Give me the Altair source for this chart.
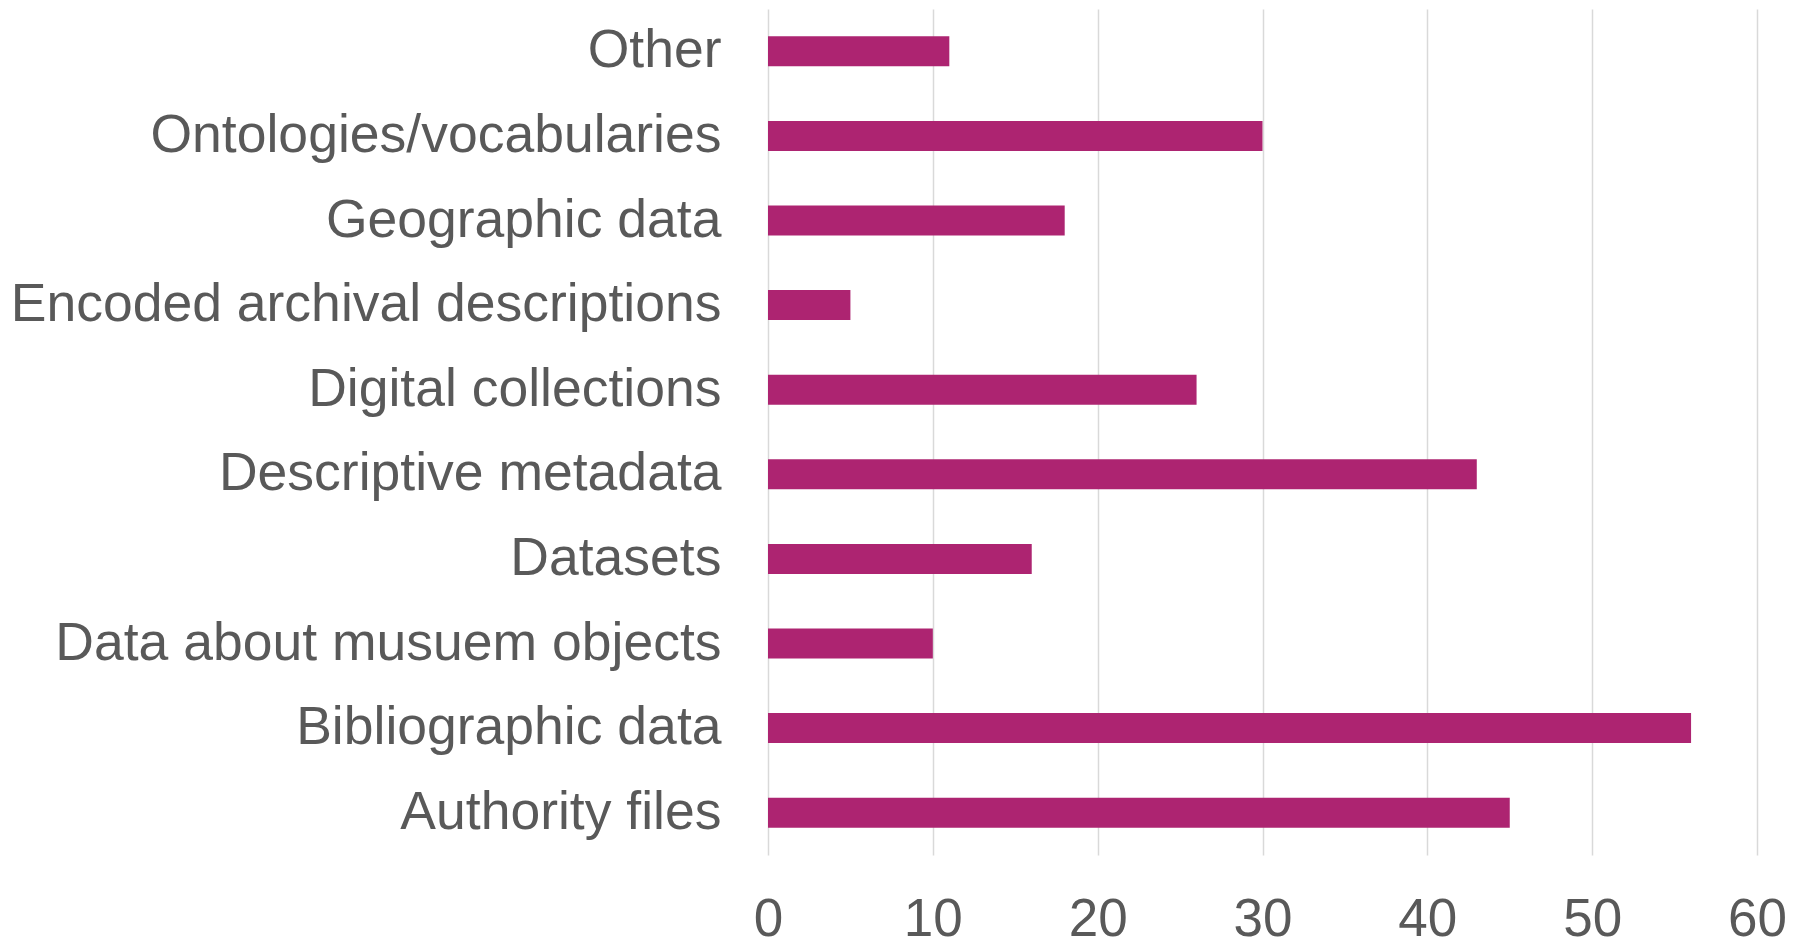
import altair as alt
import pandas as pd

categories = [
    "Other",
    "Ontologies/vocabularies",
    "Geographic data",
    "Encoded archival descriptions",
    "Digital collections",
    "Descriptive metadata",
    "Datasets",
    "Data about musuem objects",
    "Bibliographic data",
    "Authority files",
]
values = [11, 30, 18, 5, 26, 43, 16, 10, 56, 45]
x_ticks = [0, 10, 20, 30, 40, 50, 60]

df = pd.DataFrame({"category": categories, "value": values})

chart = (
    alt.Chart(df)
    .mark_bar(size=30, color="#AD2471")
    .encode(
        x=alt.X(
            "value:Q",
            scale=alt.Scale(domain=[0, 60], nice=False),
            axis=alt.Axis(
                values=x_ticks,
                title=None,
                grid=True,
                gridColor="#d9d9d9",
                gridWidth=1.5,
                domain=False,
                ticks=False,
                labelFontSize=53,
                labelColor="#595959",
                labelFont="Liberation Sans",
                labelPadding=38,
                labelFlush=False,
            ),
        ),
        y=alt.Y(
            "category:N",
            sort=categories,
            scale=alt.Scale(paddingInner=0, paddingOuter=0),
            axis=alt.Axis(
                title=None,
                domain=False,
                ticks=False,
                labelFontSize=53.5,
                labelColor="#595959",
                labelFont="Liberation Sans",
                labelPadding=47,
                labelLimit=1000,
            ),
        ),
    )
    .properties(width=989, height=846, padding={"left": 2, "top": 1, "right": 5, "bottom": 0})
    .configure_view(stroke=None)
)

chart.save("out.html", embed_options={"renderer": "svg", "actions": False})
